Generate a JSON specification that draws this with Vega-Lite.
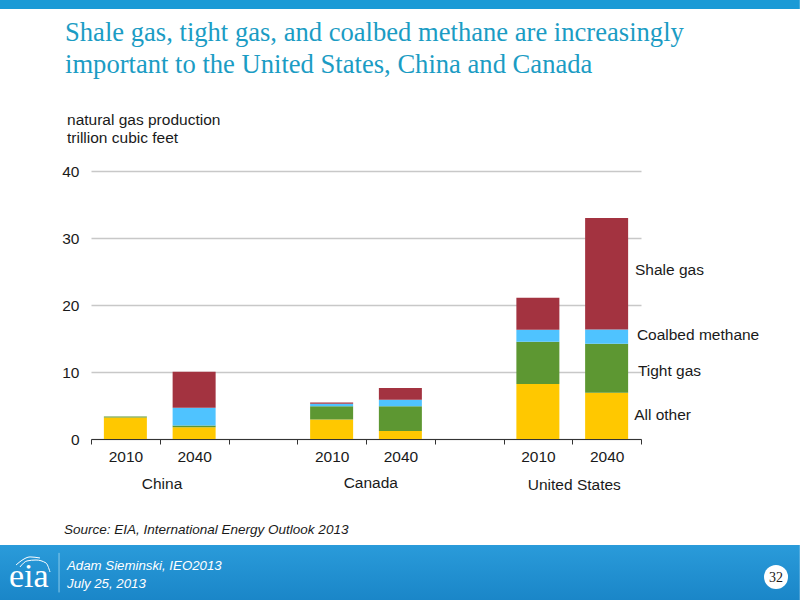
{
  "$schema": "https://vega.github.io/schema/vega-lite/v6.json",
  "width": 550,
  "height": 268,
  "autosize": "none",
  "padding": {"left": 91, "top": 171, "right": 159, "bottom": 161},
  "background": "white",
  "datasets": {
    "production": [
      {"bar": "China 2010", "source": "All other", "rank": 1, "tcf": 3.2},
      {"bar": "China 2010", "source": "Tight gas", "rank": 2, "tcf": 0.15},
      {"bar": "China 2040", "source": "All other", "rank": 1, "tcf": 1.75},
      {"bar": "China 2040", "source": "Tight gas", "rank": 2, "tcf": 0.25},
      {"bar": "China 2040", "source": "Coalbed methane", "rank": 3, "tcf": 2.65},
      {"bar": "China 2040", "source": "Shale gas", "rank": 4, "tcf": 5.4},
      {"bar": "Canada 2010", "source": "All other", "rank": 1, "tcf": 2.9},
      {"bar": "Canada 2010", "source": "Tight gas", "rank": 2, "tcf": 2.0},
      {"bar": "Canada 2010", "source": "Coalbed methane", "rank": 3, "tcf": 0.35},
      {"bar": "Canada 2010", "source": "Shale gas", "rank": 4, "tcf": 0.2},
      {"bar": "Canada 2040", "source": "All other", "rank": 1, "tcf": 1.2},
      {"bar": "Canada 2040", "source": "Tight gas", "rank": 2, "tcf": 3.7},
      {"bar": "Canada 2040", "source": "Coalbed methane", "rank": 3, "tcf": 0.95},
      {"bar": "Canada 2040", "source": "Shale gas", "rank": 4, "tcf": 1.75},
      {"bar": "United States 2010", "source": "All other", "rank": 1, "tcf": 8.2},
      {"bar": "United States 2010", "source": "Tight gas", "rank": 2, "tcf": 6.3},
      {"bar": "United States 2010", "source": "Coalbed methane", "rank": 3, "tcf": 1.8},
      {"bar": "United States 2010", "source": "Shale gas", "rank": 4, "tcf": 4.8},
      {"bar": "United States 2040", "source": "All other", "rank": 1, "tcf": 6.9},
      {"bar": "United States 2040", "source": "Tight gas", "rank": 2, "tcf": 7.3},
      {"bar": "United States 2040", "source": "Coalbed methane", "rank": 3, "tcf": 2.15},
      {"bar": "United States 2040", "source": "Shale gas", "rank": 4, "tcf": 16.65}
    ]
  },
  "layer": [
    {
      "data": {"name": "production"},
      "mark": {"type": "bar", "width": 43},
      "encoding": {
        "x": {
          "field": "bar",
          "type": "nominal",
          "scale": {
            "domain": ["China 2010", "China 2040", "gap 1", "Canada 2010", "Canada 2040", "gap 2", "United States 2010", "United States 2040"],
            "paddingInner": 0,
            "paddingOuter": 0
          },
          "axis": {
            "title": null,
            "tickBand": "extent",
            "labelAngle": 0,
            "labelExpr": "isString(datum.value) && indexof(datum.value, 'gap') != 0 ? slice(datum.value, -4) : ''",
            "labelFont": "Liberation Sans",
            "labelFontSize": 15.5,
            "labelColor": "#1a1a1a",
            "labelPadding": 5,
            "domainColor": "#333333",
            "tickColor": "#333333",
            "tickSize": 5,
            "grid": false
          }
        },
        "y": {
          "field": "tcf",
          "type": "quantitative",
          "stack": "zero",
          "scale": {"domain": [0, 40]},
          "axis": {"title": null, "values": [0, 10, 20, 30, 40], "domain": false, "ticks": false, "grid": true, "gridColor": "#C8C8C8", "gridWidth": 1.5, "labelFont": "Liberation Sans", "labelFontSize": 15.5, "labelColor": "#1a1a1a", "labelPadding": 12}
        },
        "order": {"field": "rank", "type": "quantitative"},
        "color": {
          "field": "source",
          "type": "nominal",
          "legend": null,
          "scale": {
            "domain": ["All other", "Tight gas", "Coalbed methane", "Shale gas"],
            "range": ["#FFC800", "#5D9732", "#4FC3FF", "#A33340"]
          }
        }
      }
    },
    {
      "data": {"values": [{"left": -1.324, "right": 10.31, "top": 65.52, "bottom": 64.18}]},
      "mark": {"type": "rect", "color": "#1B9AD6"},
      "encoding": {
        "x": {"field": "left", "type": "quantitative", "scale": {"domain": [0, 8]}, "axis": null},
        "x2": {"field": "right"},
        "y": {"field": "top", "type": "quantitative"},
        "y2": {"field": "bottom"}
      }
    },
    {
      "data": {"values": [{"left": -1.324, "right": 10.31, "top": -15.82, "bottom": -24.03}]},
      "mark": {"type": "rect", "color": {"x1": 0, "y1": 0, "x2": 0, "y2": 1, "gradient": "linear", "stops": [{"offset": 0, "color": "#2A9BDA"}, {"offset": 1, "color": "#1A86C8"}]}},
      "encoding": {
        "x": {"field": "left", "type": "quantitative", "scale": {"domain": [0, 8]}, "axis": null},
        "x2": {"field": "right"},
        "y": {"field": "top", "type": "quantitative"},
        "y2": {"field": "bottom"}
      }
    },
    {
      "data": {"values": [
        {"label": "Shale gas, tight gas, and coalbed methane are increasingly", "at": -0.378, "level": 59.4},
        {"label": "important to the United States, China and Canada", "at": -0.378, "level": 54.63}
      ]},
      "mark": {"type": "text", "align": "left", "baseline": "alphabetic", "font": "Liberation Serif", "fontSize": 26.6, "color": "#1B9CC4"},
      "encoding": {
        "x": {"field": "at", "type": "quantitative", "scale": {"domain": [0, 8]}, "axis": null},
        "y": {"field": "level", "type": "quantitative"},
        "text": {"field": "label"}
      }
    },
    {
      "data": {"values": [
        {"label": "natural gas production", "at": -0.349, "level": 46.87},
        {"label": "trillion cubic feet", "at": -0.349, "level": 44.18},
        {"label": "Shale gas", "at": 7.913, "level": 24.5},
        {"label": "Coalbed methane", "at": 7.94, "level": 14.8},
        {"label": "Tight gas", "at": 7.955, "level": 9.4},
        {"label": "All other", "at": 7.9, "level": 2.84}
      ]},
      "mark": {"type": "text", "align": "left", "baseline": "alphabetic", "font": "Liberation Sans", "fontSize": 15.5, "color": "#1a1a1a"},
      "encoding": {
        "x": {"field": "at", "type": "quantitative", "scale": {"domain": [0, 8]}, "axis": null},
        "y": {"field": "level", "type": "quantitative"},
        "text": {"field": "label"}
      }
    },
    {
      "data": {"values": [
        {"label": "China", "at": 1.033, "level": -7.46},
        {"label": "Canada", "at": 4.07, "level": -7.31},
        {"label": "United States", "at": 7.03, "level": -7.6}
      ]},
      "mark": {"type": "text", "align": "center", "baseline": "alphabetic", "font": "Liberation Sans", "fontSize": 15.5, "color": "#1a1a1a"},
      "encoding": {
        "x": {"field": "at", "type": "quantitative", "scale": {"domain": [0, 8]}, "axis": null},
        "y": {"field": "level", "type": "quantitative"},
        "text": {"field": "label"}
      }
    },
    {
      "data": {"values": [{"label": "Source:  EIA, International Energy Outlook 2013", "at": -0.393, "level": -14.25}]},
      "mark": {"type": "text", "align": "left", "baseline": "alphabetic", "font": "Liberation Sans", "fontSize": 13.5, "fontStyle": "italic", "color": "#1a1a1a"},
      "encoding": {
        "x": {"field": "at", "type": "quantitative", "scale": {"domain": [0, 8]}, "axis": null},
        "y": {"field": "level", "type": "quantitative"},
        "text": {"field": "label"}
      }
    },
    {
      "data": {"values": [
        {"label": "Adam Sieminski, IEO2013", "at": -0.349, "level": -19.55},
        {"label": "July 25, 2013", "at": -0.349, "level": -22.2}
      ]},
      "mark": {"type": "text", "align": "left", "baseline": "alphabetic", "font": "Liberation Sans", "fontSize": 13.25, "fontStyle": "italic", "color": "white"},
      "encoding": {
        "x": {"field": "at", "type": "quantitative", "scale": {"domain": [0, 8]}, "axis": null},
        "y": {"field": "level", "type": "quantitative"},
        "text": {"field": "label"}
      }
    },
    {
      "data": {"values": [{"label": "eia", "at": -1.193, "level": -22.1}]},
      "mark": {"type": "text", "align": "left", "baseline": "alphabetic", "font": "Liberation Serif", "fontSize": 34, "color": "white"},
      "encoding": {
        "x": {"field": "at", "type": "quantitative", "scale": {"domain": [0, 8]}, "axis": null},
        "y": {"field": "level", "type": "quantitative"},
        "text": {"field": "label"}
      }
    },
    {
      "data": {"values": [
        {"swoosh": "a", "at": -1.09, "level": -18.8},
        {"swoosh": "a", "at": -1.004, "level": -18.1},
        {"swoosh": "a", "at": -0.887, "level": -17.6},
        {"swoosh": "a", "at": -0.742, "level": -17.76},
        {"swoosh": "b", "at": -1.033, "level": -19.1},
        {"swoosh": "b", "at": -0.931, "level": -18.2},
        {"swoosh": "b", "at": -0.8, "level": -18.06},
        {"swoosh": "b", "at": -0.655, "level": -18.5},
        {"swoosh": "b", "at": -0.596, "level": -19.85}
      ]},
      "mark": {"type": "line", "color": "white", "strokeWidth": 1, "interpolate": "monotone"},
      "encoding": {
        "x": {"field": "at", "type": "quantitative", "scale": {"domain": [0, 8]}, "axis": null},
        "y": {"field": "level", "type": "quantitative"},
        "detail": {"field": "swoosh"}
      }
    },
    {
      "data": {"values": [{"at": -0.465, "top": -17, "bottom": -22.9}]},
      "mark": {"type": "rule", "color": "#8CCBEA", "strokeWidth": 1},
      "encoding": {
        "x": {"field": "at", "type": "quantitative", "scale": {"domain": [0, 8]}, "axis": null},
        "y": {"field": "top", "type": "quantitative"},
        "y2": {"field": "bottom"}
      }
    },
    {
      "data": {"values": [{"at": 9.964, "level": -20.6}]},
      "mark": {"type": "point", "shape": "circle", "filled": true, "opacity": 1, "color": "white", "size": 576},
      "encoding": {
        "x": {"field": "at", "type": "quantitative", "scale": {"domain": [0, 8]}, "axis": null},
        "y": {"field": "level", "type": "quantitative"}
      }
    },
    {
      "data": {"values": [{"label": "32", "at": 9.964, "level": -21.3}]},
      "mark": {"type": "text", "align": "center", "baseline": "alphabetic", "font": "Liberation Serif", "fontSize": 14, "color": "#1a1a1a"},
      "encoding": {
        "x": {"field": "at", "type": "quantitative", "scale": {"domain": [0, 8]}, "axis": null},
        "y": {"field": "level", "type": "quantitative"},
        "text": {"field": "label"}
      }
    }
  ],
  "resolve": {"scale": {"x": "independent"}},
  "config": {
    "view": {"stroke": null}
  }
}
